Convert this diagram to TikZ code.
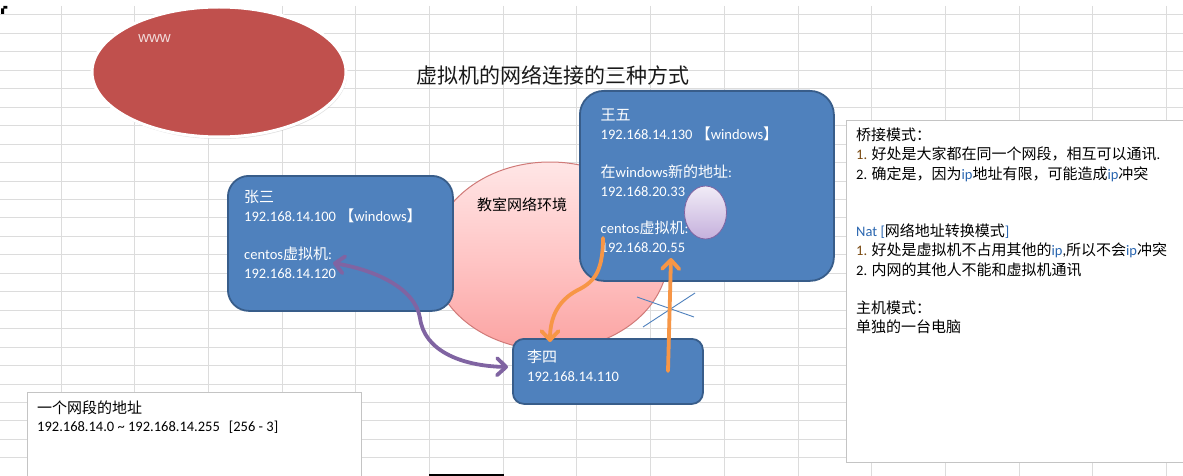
\documentclass[tikz,border=0pt]{standalone}
\usepackage{fontspec}
\setmainfont{Carlito}
\newfontfamily\cjkf{Noto Sans CJK SC}
\newfontfamily\arialf{Liberation Sans}
\usetikzlibrary{shapes.geometric,arrows.meta,shadows}
\newcommand\zh[1]{{\cjkf\fontsize{15}{19}\selectfont #1}}
\definecolor{boxblue}{HTML}{4F81BD}
\definecolor{boxedge}{HTML}{385D8A}
\definecolor{wwwred}{HTML}{C0504D}
\definecolor{wwwtext}{HTML}{F2DCDB}
\definecolor{vmpurple}{HTML}{8064A2}
\definecolor{arrorange}{HTML}{F79646}
\definecolor{gridgray}{HTML}{DCDCDC}
\definecolor{pinktop}{HTML}{FFE6E6}
\definecolor{pinkmid}{HTML}{FFC6C6}
\definecolor{pinkbot}{HTML}{FBA3A2}
\definecolor{pinkedge}{HTML}{D07A78}
\definecolor{lavtop}{HTML}{F1ECF7}
\definecolor{lavbot}{HTML}{C5B0DC}
\definecolor{noteedge}{HTML}{C4C4C4}
\definecolor{numbrown}{HTML}{7A4A12}
\definecolor{ipblue}{HTML}{2A66B0}
\begin{document}
\begin{tikzpicture}[x=1pt,y=-1pt,
  gridline/.style={draw=gridgray, line width=1pt},
  bluebox/.style={draw=boxedge, line width=1.8pt, fill=boxblue, inner sep=0pt, anchor=north west},
  boxtext/.style={align=left, inner sep=0pt, text=white, anchor=base west, font=\fontsize{14.5}{18.9}\selectfont},
  notebox/.style={draw=noteedge, line width=1.3pt, fill=white, inner sep=0pt, anchor=north west},
  notetext/.style={align=left, inner sep=0pt, text=black, anchor=base west, font=\fontsize{14.5}{19.2}\selectfont},
  purparrow/.style={draw=vmpurple, line width=3.8pt, line cap=round, {Straight Barb[length=9pt,width=17pt,round]}-{Straight Barb[length=9pt,width=17pt,round]}},
  orangearrow/.style={draw=arrorange, line width=3.8pt, line cap=round, -{Straight Barb[length=9pt,width=17pt,round]}},
  xline/.style={draw=boxblue, line width=0.9pt},
]
\useasboundingbox (0,0) rectangle (1183,476);
\fill[white] (0,0) rectangle (1183,476);
% spreadsheet grid
\foreach \k in {0,...,24} \draw[gridline] (0,{15+18.45*\k}) -- (1183,{15+18.45*\k});
\foreach \k in {0,...,15} \draw[gridline] ({61+73.7*\k},6) -- ({61+73.7*\k},476);
% corner mark and bottom bar
\fill[black] (3.3,6) -- (7.3,6) -- (7.3,8.7) -- (4,8.7) -- (4,14) -- (1,14) -- (1,8.3) -- (3.3,8.3) -- cycle;
\fill[black] (429,473.5) rectangle (504,476);
% www ellipse
\node[ellipse, fill=wwwred, draw=white, line width=3pt, minimum width=254pt, minimum height=130pt, inner sep=0pt,
      drop shadow={shadow xshift=1pt, shadow yshift=-2pt, opacity=0.25}] (www) at (219,72) {};
\node[font=\arialf\fontsize{15}{18}\selectfont, text=wwwtext, inner sep=0pt] (wwwT) at (154.5,39) {www};
% title
\node[font=\cjkf\fontsize{21}{24}\selectfont, text=black!90, inner sep=0pt] (title) at (552.5,75) {虚拟机的网络连接的三种方式};
% classroom network ellipse
\node[ellipse, draw=pinkedge, line width=1pt, top color=pinktop, bottom color=pinkbot, middle color=pinkmid,
      minimum width=236pt, minimum height=188pt, inner sep=0pt] (env) at (550,256) {};
\node[font=\cjkf\fontsize{15}{18}\selectfont, text=black, inner sep=0pt] (envT) at (522,205) {教室网络环境};
% boxes
\node[bluebox, rounded corners=21pt, minimum width=225pt, minimum height=135pt] (zs) at (227,175) {};
\node[bluebox, rounded corners=24pt, minimum width=254pt, minimum height=190pt] (ww) at (579,90) {};
\node[bluebox, rounded corners=11pt, minimum width=190pt, minimum height=65pt] (ls) at (512,338) {};
\node[boxtext] (zsT) at (244,278.1) {\zh{张三}\\192.168.14.100 \zh{【}windows\zh{】}\\[18.9pt]centos\zh{虚拟机}:\\192.168.14.120};
\node[boxtext] (wwT) at (600.5,252.8) {\zh{王五}\\192.168.14.130 \zh{【}windows\zh{】}\\[18.9pt]\zh{在}windows\zh{新的地址}:\\192.168.20.33\\[18.9pt]centos\zh{虚拟机}:\\192.168.20.55};
\node[boxtext] (lsT) at (527,381.3) {\zh{李四}\\192.168.14.110};
\node[ellipse, draw=vmpurple, line width=0.8pt, top color=lavtop, bottom color=lavbot,
      minimum width=42pt, minimum height=53pt, inner sep=0pt] (vm) at (705.5,212.5) {};
% note boxes
\node[notebox, minimum width=345pt, minimum height=342pt] (note) at (846,120) {};
\node[notetext] (noteT) at (856,332.7) {\zh{桥接模式：}\\
\textcolor{numbrown}{1.} \zh{好处是大家都在同一个网段，相互可以通讯}.\\
2. \zh{确定是，因为}\textcolor{ipblue}{ip}\zh{地址有限，可能造成}\textcolor{ipblue}{ip}\zh{冲突}\\[38.4pt]
\textcolor{ipblue}{Nat [}\zh{网络地址转换模式}\textcolor{ipblue}{]}\\
\textcolor{numbrown}{1.} \zh{好处是虚拟机不占用其他的}\textcolor{ipblue}{ip},\zh{所以不会}\textcolor{ipblue}{ip}\zh{冲突}\\
2. \zh{内网的其他人不能和虚拟机通讯}\\[19.2pt]
\zh{主机模式：}\\
\zh{单独的一台电脑}};
\node[notebox, minimum width=334pt, minimum height=100pt] (seg) at (27,392) {};
\node[notetext, font=\fontsize{14.5}{18}\selectfont] (segT) at (37,431.7) {\zh{一个网段的地址}\\
192.168.14.0 \textasciitilde{} 192.168.14.255\hspace{9pt}[256 - 3]};
% cross mark
\coordinate (xa1) at (637,297);
\coordinate (xb1) at (694,317);
\coordinate (xa2) at (643,327);
\coordinate (xb2) at (695,293);
\draw[xline] (xa1) -- (xb1);
\draw[xline] (xa2) -- (xb2);
% connectors
\coordinate (zsVm) at (333,263);
\coordinate (lsW) at (508,367);
\coordinate (wwVm) at (603,238);
\coordinate (lsTop) at (550,342);
\coordinate (lsIn) at (668,371);
\coordinate (wwIn) at (671,258);
\draw[purparrow] (zsVm) .. controls (375,270) and (415,288) .. (420,318) .. controls (424,350) and (460,366) .. (lsW);
\draw[orangearrow] (wwVm) .. controls (603,275) and (592,283) .. (576,291) .. controls (560,300) and (550,315) .. (lsTop);
\draw[orangearrow] (lsIn) -- (wwIn);
\end{tikzpicture}
\end{document}
